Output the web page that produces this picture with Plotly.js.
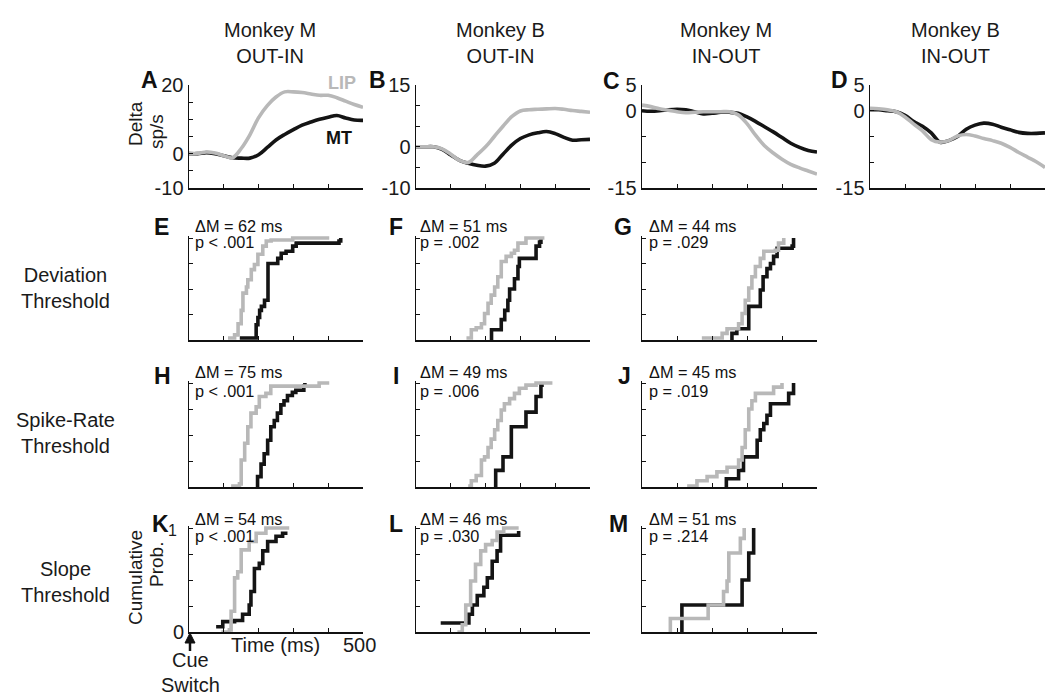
<!DOCTYPE html>
<html><head><meta charset="utf-8">
<script src="https://cdn.plot.ly/plotly-3.0.1.min.js"></script>
<style>html,body{margin:0;padding:0;background:#fff}#chart{width:1050px;height:696px}</style>
</head><body><div id="chart"></div>
<script>
// ---------- Data ----------
const columnTitles = ['Monkey M<br>OUT-IN', 'Monkey B<br>OUT-IN', 'Monkey M<br>IN-OUT', 'Monkey B<br>IN-OUT'];
const rowTitles = ['Deviation<br>Threshold', 'Spike-Rate<br>Threshold', 'Slope<br>Threshold'];

// Row 1: mean delta firing rate (sp/s) vs time (ms)
const timeGrid = [0,25,50,75,100,125,150,175,200,225,250,275,300,325,350,375,400,425,450,475,500];
const A_LIP = [0,0.1,0.5,0.2,-0.6,-1.2,1.5,5.5,10.5,14,16.5,18,18,17.8,17.4,17,17,16.3,15.3,14.3,13.5];
const A_MT  = [0,0,0.3,0,-0.6,-1.2,-1.3,-1.3,-0.3,1.8,4,5.6,7,8.3,9.2,10,10.6,11.1,10.4,9.8,9.7];
const B_LIP = [0,0,0,-0.5,-1.8,-3.3,-3.8,-2,0,2.5,5,7.3,8.7,9,9.1,9.2,9.3,9.1,8.8,8.6,8.4];
const B_MT  = [0,0,0,-0.6,-2,-3.3,-4,-4.5,-4.7,-4,-1.8,0.4,2,2.9,3.4,3.7,3.2,2.3,1.6,1.7,1.8];
const C_LIP = [1.1,0.8,0.4,0.1,-0.2,-0.4,-0.3,-0.2,-0.2,-0.2,-0.2,-0.8,-2.5,-4.8,-6.8,-8.2,-9.4,-10.4,-11.1,-11.7,-12.3];
const C_MT  = [0,-0.1,0,0.2,0.3,0.2,-0.2,-0.6,-0.5,-0.3,-0.3,-0.5,-1.2,-2.1,-3.1,-4.1,-5.2,-6.3,-7.1,-7.7,-8];
const D_LIP = [0.5,0.4,0.2,-0.2,-1.2,-2.6,-3.9,-5.6,-6.1,-5.8,-4.9,-4.6,-4.9,-5.4,-5.8,-6.3,-7.1,-8.1,-9,-9.9,-11];
const D_MT  = [0.2,0.2,0,-0.2,-0.9,-2.1,-3,-4.3,-6.1,-5.8,-5,-3.6,-2.8,-2.4,-2.6,-3.2,-3.7,-4.2,-4.4,-4.4,-4.3];

// Rows 2-4: cumulative distributions of threshold latencies (time ms, cumulative prob.)
const E_LIP_t = [112,131,141,150,155,165,169,179,188,198,212,222,236,298,403];
const E_LIP_p = [0.02,0.05,0.16,0.29,0.46,0.52,0.59,0.69,0.74,0.84,0.92,0.97,0.98,1,1];
const E_MT_t  = [146,193,198,203,208,217,227,255,265,279,298,308,431,436];
const E_MT_p  = [0.02,0.15,0.22,0.29,0.33,0.39,0.75,0.8,0.85,0.87,0.92,0.95,0.97,1];
const F_LIP_t = [145,159,173,188,197,207,216,226,235,245,259,274,283,293,316,369];
const F_LIP_p = [0.02,0.1,0.12,0.16,0.26,0.36,0.44,0.52,0.62,0.77,0.82,0.85,0.88,0.95,1,1];
const F_MT_t  = [214,217,245,255,264,269,283,293,297,345,355,359];
const F_MT_p  = [0,0.1,0.2,0.29,0.39,0.5,0.6,0.72,0.8,0.92,0.96,1];
const G_LIP_t = [171,229,243,276,286,295,305,314,324,338,348,381,390,405];
const G_LIP_p = [0.02,0.065,0.11,0.16,0.26,0.39,0.51,0.62,0.72,0.8,0.87,0.88,0.95,1];
const G_MT_t  = [252,257,271,305,338,346,357,367,376,386,429,433];
const G_MT_p  = [0,0.065,0.11,0.33,0.49,0.62,0.7,0.75,0.82,0.9,0.92,1];
const H_LIP_t = [121,145,150,160,169,178,193,202,221,235,374,403];
const H_LIP_p = [0.01,0.03,0.26,0.42,0.58,0.71,0.77,0.87,0.9,0.97,1,1];
const H_MT_t  = [193,197,207,216,226,235,245,254,264,273,283,297,307,330,333];
const H_MT_p  = [0,0.1,0.22,0.32,0.45,0.58,0.64,0.71,0.79,0.83,0.88,0.91,0.93,0.97,1];
const I_LIP_t = [150,159,173,188,197,207,216,226,235,245,254,269,283,297,316,345,392];
const I_LIP_p = [0.01,0.06,0.11,0.26,0.29,0.38,0.46,0.55,0.64,0.74,0.8,0.85,0.9,0.95,0.98,1,1];
const I_MT_t  = [226,229,250,274,316,345,359,362];
const I_MT_p  = [0,0.16,0.29,0.58,0.72,0.87,0.98,1];
const J_LIP_t = [129,157,186,214,243,276,286,295,305,314,324,362,376,400];
const J_LIP_p = [0.01,0.06,0.1,0.145,0.19,0.26,0.38,0.55,0.75,0.83,0.9,0.9,0.96,1];
const J_MT_t  = [238,241,276,290,329,338,348,357,367,419,433];
const J_MT_p  = [0,0.08,0.16,0.29,0.45,0.55,0.61,0.69,0.8,0.9,1];
const K_LIP_t = [93,116,121,131,140,150,173,193,221,288];
const K_LIP_p = [0,0.02,0.2,0.52,0.58,0.79,0.87,0.95,1,1];
const K_MT_t  = [78,97,131,154,173,178,188,202,212,226,250,269,283];
const K_MT_p  = [0.05,0.1,0.11,0.17,0.26,0.39,0.61,0.66,0.78,0.87,0.92,0.95,0.95];
const L_LIP_t = [119,133,143,157,171,186,200,219,233,252,295];
const L_LIP_p = [0,0.07,0.26,0.49,0.65,0.78,0.84,0.88,0.96,1,1];
const L_MT_t  = [71,148,152,162,176,195,205,219,233,243,295];
const L_MT_p  = [0.087,0.087,0.17,0.26,0.35,0.43,0.52,0.68,0.78,0.93,0.97];
const M_LIP_t = [81,81,189,233,243,248,281,292];
const M_LIP_p = [0,0.13,0.26,0.39,0.49,0.76,0.9,1];
const M_MT_t  = [114,114,286,305,319];
const M_MT_p  = [0,0.26,0.5,0.76,1];

const deltaLabels = ['ΔM = 62 ms','ΔM = 51 ms','ΔM = 44 ms','ΔM = 75 ms','ΔM = 49 ms','ΔM = 45 ms','ΔM = 54 ms','ΔM = 46 ms','ΔM = 51 ms'];
const pLabels = ['p < .001','p = .002','p = .029','p < .001','p = .006','p = .019','p < .001','p = .030','p = .214'];
const timeTicks = [0,100,200,300,400,500];
const probTicks = [0,0.25,0.5,0.75,1];

// ---------- Layout helpers ----------
const W = 1050, H = 696;
const FONT = 'Liberation Sans, Arial, Helvetica, sans-serif';
const GRAY = 'rgb(184,184,184)', BLACK = 'rgb(20,20,20)';
const colX = [[189,363],[416,590],[642,817],[870,1045]];
const rowY = [[85,188],[238,340],[383,487],[528,632]];
const px = x => x / W, py = y => 1 - y / H;

const panels = [
  {L:'A', c:0, r:0, mt:[timeGrid,A_MT], lip:[timeGrid,A_LIP], yr:[-10,20], tv:[-10,-5,0,5,10,15,20], tt:['-10','','0','','','','20']},
  {L:'B', c:1, r:0, mt:[timeGrid,B_MT], lip:[timeGrid,B_LIP], yr:[-10,15], tv:[-10,-5,0,5,10,15], tt:['-10','','0','','','15']},
  {L:'C', c:2, r:0, mt:[timeGrid,C_MT], lip:[timeGrid,C_LIP], yr:[-15,5], tv:[-15,-10,-5,0,5], tt:['-15','','','0','5']},
  {L:'D', c:3, r:0, mt:[timeGrid,D_MT], lip:[timeGrid,D_LIP], yr:[-15,5], tv:[-15,-10,-5,0,5], tt:['-15','','','0','5']},
  {L:'E', c:0, r:1, mt:[E_MT_t,E_MT_p], lip:[E_LIP_t,E_LIP_p]},
  {L:'F', c:1, r:1, mt:[F_MT_t,F_MT_p], lip:[F_LIP_t,F_LIP_p]},
  {L:'G', c:2, r:1, mt:[G_MT_t,G_MT_p], lip:[G_LIP_t,G_LIP_p]},
  {L:'H', c:0, r:2, mt:[H_MT_t,H_MT_p], lip:[H_LIP_t,H_LIP_p]},
  {L:'I', c:1, r:2, mt:[I_MT_t,I_MT_p], lip:[I_LIP_t,I_LIP_p]},
  {L:'J', c:2, r:2, mt:[J_MT_t,J_MT_p], lip:[J_LIP_t,J_LIP_p]},
  {L:'K', c:0, r:3, mt:[K_MT_t,K_MT_p], lip:[K_LIP_t,K_LIP_p]},
  {L:'L', c:1, r:3, mt:[L_MT_t,L_MT_p], lip:[L_LIP_t,L_LIP_p]},
  {L:'M', c:2, r:3, mt:[M_MT_t,M_MT_p], lip:[M_LIP_t,M_LIP_p]}
];

const letterPos = {A:[149,80],B:[377,80],C:[611,81],D:[839,80],E:[161,227],F:[396,227],G:[623,227],
                   H:[162,376],I:[396,376],J:[624,376],K:[160,524],L:[396,524],M:[618,524]};
const statLeft = [193,418,647];
const statRowY = {1:[226,242],2:[372,391],3:[519,536]};

const traces = [];
const layout = {
  width: W, height: H, margin:{l:0,r:0,t:0,b:0},
  paper_bgcolor:'#fff', plot_bgcolor:'rgba(0,0,0,0)',
  showlegend:false, font:{family:FONT, color:'#1a1a1a', size:20},
  annotations:[], shapes:[]
};

panels.forEach((p, i) => {
  const n = i + 1;
  const xa = 'x' + (n === 1 ? '' : n), ya = 'y' + (n === 1 ? '' : n);
  const xk = 'xaxis' + (n === 1 ? '' : n), yk = 'yaxis' + (n === 1 ? '' : n);
  const top = p.r === 0;
  const cdfTopPad = top ? 0 : 0.02;
  const [x0,x1] = colX[p.c];
  const [yt,yb] = rowY[p.r];
  const ytAdj = top ? yt : yt - cdfTopPad*(yb-yt);
  layout[xk] = {domain:[px(x0),px(x1)], range:[0,500], anchor:ya, showline:true, linecolor:'#111', linewidth:1.5,
    ticks:'inside', ticklen:4, tickwidth:1, tickcolor:'#111', tickvals:timeTicks, showticklabels:false,
    showgrid:false, zeroline:false, fixedrange:true};
  layout[yk] = {domain:[py(yb),py(ytAdj)], anchor:xa, range: top ? p.yr : [0,1+cdfTopPad], showline:true, linecolor:'#111', linewidth:1.5,
    ticks:'inside', ticklen:4, tickwidth:1, tickcolor:'#111', tickvals: top ? p.tv : probTicks,
    ticktext: top ? p.tt : null, showticklabels: top, tickfont:{size:20, family:FONT, color:'#1a1a1a'},
    showgrid:false, zeroline:false, fixedrange:true};
  const shape = top ? 'spline' : 'hv';
  traces.push({x:p.mt[0], y:p.mt[1], xaxis:xa, yaxis:ya, mode:'lines', line:{color:BLACK, width:3.6, shape:shape}, hoverinfo:'skip'});
  traces.push({x:p.lip[0], y:p.lip[1], xaxis:xa, yaxis:ya, mode:'lines', line:{color:GRAY, width:3.6, shape:shape}, hoverinfo:'skip'});
  const lp = letterPos[p.L];
  layout.annotations.push({xref:'paper', yref:'paper', x:px(lp[0]), y:py(lp[1]), text:'<b>'+p.L+'</b>', showarrow:false,
    xanchor:'center', yanchor:'middle', font:{size:23, family:FONT, color:'#111'}});
  if (!top) {
    const k = i - 4;
    const sy = statRowY[p.r];
    layout.annotations.push({xref:'paper', yref:'paper', x:px(statLeft[p.c]), y:py(sy[0]), text:deltaLabels[k], showarrow:false,
      xanchor:'left', yanchor:'middle', font:{size:16.3, family:FONT, color:'#111'}});
    layout.annotations.push({xref:'paper', yref:'paper', x:px(statLeft[p.c]), y:py(sy[1]), text:pLabels[k], showarrow:false,
      xanchor:'left', yanchor:'middle', font:{size:16.3, family:FONT, color:'#111'}});
  }
});

const colCenters = [270,500,726,955];
columnTitles.forEach((t,i) => layout.annotations.push({xref:'paper', yref:'paper', x:px(colCenters[i]), y:py(43), text:t,
  showarrow:false, xanchor:'center', yanchor:'middle', font:{size:20, family:FONT, color:'#1a1a1a'}}));
const rowCenters = [288,433,582];
rowTitles.forEach((t,i) => layout.annotations.push({xref:'paper', yref:'paper', x:px(65), y:py(rowCenters[i]), text:t,
  showarrow:false, xanchor:'center', yanchor:'middle', font:{size:20, family:FONT, color:'#1a1a1a'}}));

const txt = (x,y,text,opt={}) => layout.annotations.push(Object.assign({xref:'paper', yref:'paper', x:px(x), y:py(y), text:text,
  showarrow:false, xanchor:'center', yanchor:'middle', font:{size:20, family:FONT, color:'#1a1a1a'}}, opt));
txt(136,124,'Delta',{textangle:-90, font:{size:19, family:FONT, color:'#1a1a1a'}});
txt(156,132,'sp/s',{textangle:-90, font:{size:19, family:FONT, color:'#1a1a1a'}});
txt(342,83,'<b>LIP</b>',{font:{size:18, family:FONT, color:GRAY}});
txt(339,138,'<b>MT</b>',{font:{size:18, family:FONT, color:'#111'}});
txt(135,578,'Cumulative',{textangle:-90, font:{size:19, family:FONT, color:'#1a1a1a'}});
txt(156,565,'Prob.',{textangle:-90, font:{size:19, family:FONT, color:'#1a1a1a'}});
txt(172,530,'1',{font:{size:16, family:FONT, color:'#1a1a1a'}});
txt(178,632,'0');
txt(275,645,'Time (ms)');
txt(359,645,'500');
txt(190,660,'Cue');
txt(190,685,'Switch');

layout.shapes.push({type:'line', xref:'paper', yref:'paper', x0:px(190), x1:px(190), y0:py(641), y1:py(651), line:{color:'#111', width:2.5}});
layout.shapes.push({type:'path', xref:'paper', yref:'paper', path:`M ${px(185)} ${py(643)} L ${px(195)} ${py(643)} L ${px(190)} ${py(633)} Z`,
  fillcolor:'#111', line:{color:'#111', width:1}});

Plotly.newPlot('chart', traces, layout, {staticPlot:true, displayModeBar:false});
</script></body></html>
